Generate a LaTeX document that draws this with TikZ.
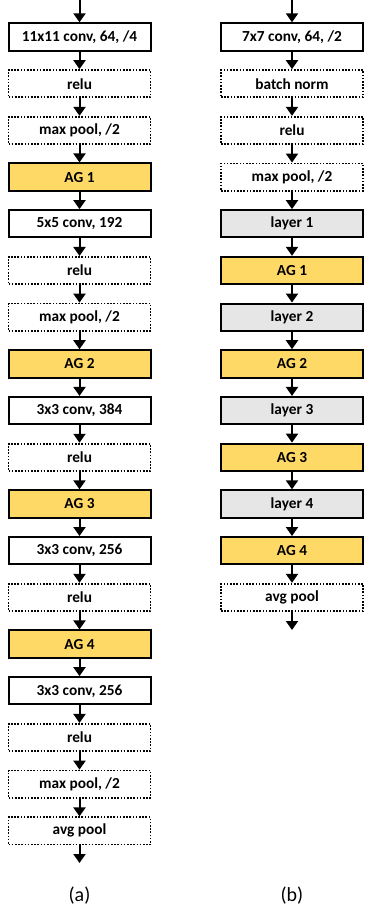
\documentclass[tikz,border=0pt]{standalone}
\usepackage{fontspec}
\setmainfont{Carlito}
\usetikzlibrary{arrows.meta}
\definecolor{agyellow}{HTML}{FFD966}
\definecolor{layergray}{HTML}{E7E6E6}
\tikzset{
  x=0.75pt, y=-0.75pt,
  blk/.style={draw, minimum width=106.5pt, minimum height=20.5pt, inner sep=0pt,
    font=\fontsize{11.5}{13}\selectfont\bfseries},
  solidbox/.style={blk, line width=1.5pt},
  dotbox/.style={blk, line width=1.3pt, dash pattern=on 1.2pt off 1.2pt},
  agbox/.style={solidbox, fill=agyellow},
  layerbox/.style={solidbox, fill=layergray},
  arr/.style={line width=1.5pt, -{Triangle[width=9pt,length=6.75pt]}},
  caplabel/.style={font=\fontsize{15}{18}\selectfont}
}
\begin{document}
\begin{tikzpicture}
\useasboundingbox (0,0) rectangle (365,909);
% ---- column (a) ----
\coordinate (atop) at (79.5,0);
\node[solidbox] (a1)  at (79.5,37)    {11x11 conv, 64, /4};
\node[dotbox]   (a2)  at (79.5,83.7)  {relu};
\node[dotbox]   (a3)  at (79.5,130.4) {max pool, /2};
\node[agbox]    (a4)  at (79.5,177.1) {AG 1};
\node[solidbox] (a5)  at (79.5,223.8) {5x5 conv, 192};
\node[dotbox]   (a6)  at (79.5,270.5) {relu};
\node[dotbox]   (a7)  at (79.5,317.2) {max pool, /2};
\node[agbox]    (a8)  at (79.5,363.9) {AG 2};
\node[solidbox] (a9)  at (79.5,410.6) {3x3 conv, 384};
\node[dotbox]   (a10) at (79.5,457.3) {relu};
\node[agbox]    (a11) at (79.5,504)   {AG 3};
\node[solidbox] (a12) at (79.5,550.7) {3x3 conv, 256};
\node[dotbox]   (a13) at (79.5,597.4) {relu};
\node[agbox]    (a14) at (79.5,644.1) {AG 4};
\node[solidbox] (a15) at (79.5,690.8) {3x3 conv, 256};
\node[dotbox]   (a16) at (79.5,737.5) {relu};
\node[dotbox]   (a17) at (79.5,784.2) {max pool, /2};
\node[dotbox]   (a18) at (79.5,830.9) {avg pool};
\coordinate (aend) at (79.5,863);
\draw[arr] (atop) -- (a1.north);
\foreach \i/\j in {1/2,2/3,3/4,4/5,5/6,6/7,7/8,8/9,9/10,10/11,11/12,12/13,13/14,14/15,15/16,16/17,17/18}
  \draw[arr] (a\i.south) -- (a\j.north);
\draw[arr] (a18.south) -- (aend);
% ---- column (b) ----
\coordinate (btop) at (292,0);
\node[solidbox] (b1)  at (292,37)    {7x7 conv, 64, /2};
\node[dotbox]   (b2)  at (292,83.7)  {batch norm};
\node[dotbox]   (b3)  at (292,130.4) {relu};
\node[dotbox]   (b4)  at (292,177.1) {max pool, /2};
\node[layerbox] (b5)  at (292,223.8) {layer 1};
\node[agbox]    (b6)  at (292,270.5) {AG 1};
\node[layerbox] (b7)  at (292,317.2) {layer 2};
\node[agbox]    (b8)  at (292,363.9) {AG 2};
\node[layerbox] (b9)  at (292,410.6) {layer 3};
\node[agbox]    (b10) at (292,457.3) {AG 3};
\node[layerbox] (b11) at (292,504)   {layer 4};
\node[agbox]    (b12) at (292,550.7) {AG 4};
\node[dotbox]   (b13) at (292,597.4) {avg pool};
\coordinate (bend) at (292,630);
\draw[arr] (btop) -- (b1.north);
\foreach \i/\j in {1/2,2/3,3/4,4/5,5/6,6/7,7/8,8/9,9/10,10/11,11/12,12/13}
  \draw[arr] (b\i.south) -- (b\j.north);
\draw[arr] (b13.south) -- (bend);
% ---- captions ----
\node[caplabel] (capa) at (79.5,896) {(a)};
\node[caplabel] (capb) at (292,896) {(b)};
\end{tikzpicture}
\end{document}
